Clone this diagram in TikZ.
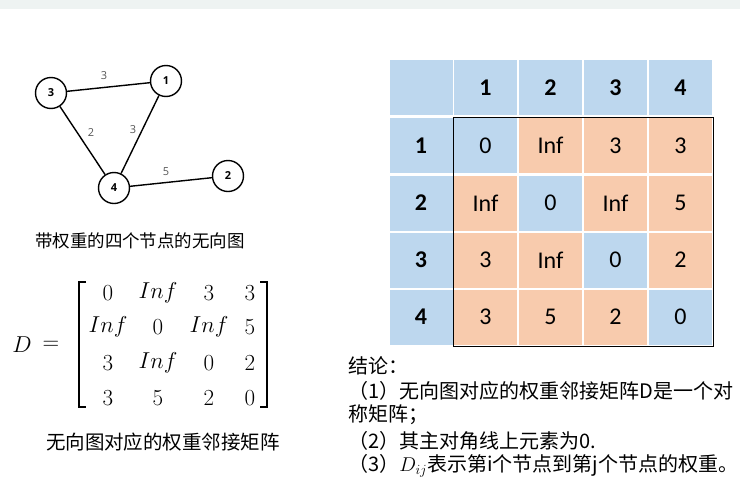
\RequirePackage{fix-cm}
\documentclass[tikz,border=0pt]{standalone}
\usepackage{fontspec}
\setmainfont{Carlito}
\newfontfamily\cjk{Noto Sans CJK SC}
\newfontfamily\grf{Open Sans}
\definecolor{cellblue}{HTML}{BDD7EE}
\definecolor{cellorange}{HTML}{F8CBAD}
\definecolor{topstrip}{HTML}{EEF3F2}
\definecolor{lblgray}{HTML}{555555}
\begin{document}
\begin{tikzpicture}[x=1pt,y=-1pt,
  gnode/.style={circle,draw=black,line width=1.4pt,fill=white,minimum size=31pt,inner sep=0pt,font=\grf\bfseries\fontsize{11}{13}\selectfont},
  gedge/.style={line width=1.4pt},
  wlabel/.style={text=lblgray,font=\grf\fontsize{11}{13}\selectfont,inner sep=1pt},
  cell/.style={rectangle,minimum width=63pt,minimum height=55pt,inner sep=0pt,font=\fontsize{24}{28}\selectfont},
  hcell/.style={cell,fill=cellblue,font=\bfseries\fontsize{24}{28}\selectfont},
  bcell/.style={cell,fill=cellblue},
  ocell/.style={cell,fill=cellorange},
  ment/.style={inner sep=0pt,font=\fontsize{23}{27}\selectfont},
  captext/.style={inner sep=0pt,font=\cjk\fontsize{17.5}{20}\selectfont},
  concl/.style={anchor=west,inner sep=0pt,font=\cjk\fontsize{20}{23}\selectfont}
]
\useasboundingbox (0,0) rectangle (740,480);
\fill[topstrip] (0,0) rectangle (740,9);

% graph
\node[gnode] (n3) at (51,93) {3};
\node[gnode] (n1) at (166,81) {1};
\node[gnode] (n4) at (114,188) {4};
\node[gnode] (n2) at (228,176) {2};
\draw[gedge] (n3) -- (n1);
\draw[gedge] (n3) -- (n4);
\draw[gedge] (n1) -- (n4);
\draw[gedge] (n4) -- (n2);
\node[wlabel] (w31) at (104,76) {3};
\node[wlabel] (w34) at (91,133) {2};
\node[wlabel] (w14) at (133,130) {3};
\node[wlabel] (w42) at (166,172) {5};
\node[captext] (gcap) at (140,241) {带权重的四个节点的无向图};

% matrix
\node[ment] (mD) at (22,345) {$D$};
\node[ment] (meq) at (51,345) {$=$};
\foreach \r/\y/\a/\b/\c/\d in {1/293/0/Inf/3/3, 2/327/Inf/0/Inf/5, 3/363/3/Inf/0/2, 4/398/3/5/2/0}{
  \node[ment] (m\r1) at (108,\y) {$\a$};
  \node[ment] (m\r2) at (158,\y) {$\b$};
  \node[ment] (m\r3) at (209,\y) {$\c$};
  \node[ment] (m\r4) at (250,\y) {$\d$};
}
\draw[line width=1.1pt] (86,282) -- (79,282) -- (79,407) -- (86,407);
\draw[line width=1.1pt] (260,282) -- (267,282) -- (267,407) -- (260,407);
\node[captext,font=\cjk\fontsize{19.5}{22}\selectfont] (mcap) at (163,442) {无向图对应的权重邻接矩阵};

% table
\node[bcell] (h0) at (421,87.5) {};
\node[hcell] (h1) at (485.5,87.5) {1};
\node[hcell] (h2) at (550.5,87.5) {2};
\node[hcell] (h3) at (615.5,87.5) {3};
\node[hcell] (h4) at (680.5,87.5) {4};
\node[hcell] (r1) at (421,145.5) {1};
\node[hcell] (r2) at (421,203) {2};
\node[hcell] (r3) at (421,260) {3};
\node[hcell] (r4) at (421,317) {4};
% row 1
\node[bcell] (c11) at (485.5,145.5) {0};
\node[ocell] (c12) at (550.5,145.5) {Inf};
\node[ocell] (c13) at (615.5,145.5) {3};
\node[ocell] (c14) at (680.5,145.5) {3};
% row 2
\node[ocell] (c21) at (485.5,203) {Inf};
\node[bcell] (c22) at (550.5,203) {0};
\node[ocell] (c23) at (615.5,203) {Inf};
\node[ocell] (c24) at (680.5,203) {5};
% row 3
\node[ocell] (c31) at (485.5,260) {3};
\node[ocell] (c32) at (550.5,260) {Inf};
\node[bcell] (c33) at (615.5,260) {0};
\node[ocell] (c34) at (680.5,260) {2};
% row 4
\node[ocell] (c41) at (485.5,317) {3};
\node[ocell] (c42) at (550.5,317) {5};
\node[ocell] (c43) at (615.5,317) {2};
\node[bcell] (c44) at (680.5,317) {0};
\draw[line width=1pt] (453,117) rectangle (713,346);

% conclusion
\node[concl] (t0) at (348,366) {结论：};
\node[concl] (t1) at (348,391) {（1）无向图对应的权重邻接矩阵D是一个对};
\node[concl] (t2) at (348,415) {称矩阵；};
\node[concl] (t3) at (348,441) {（2）其主对角线上元素为0.};
\node[concl] (t4) at (348,466) {（3）$D_{ij}$表示第i个节点到第j个节点的权重。};
\end{tikzpicture}
\end{document}
